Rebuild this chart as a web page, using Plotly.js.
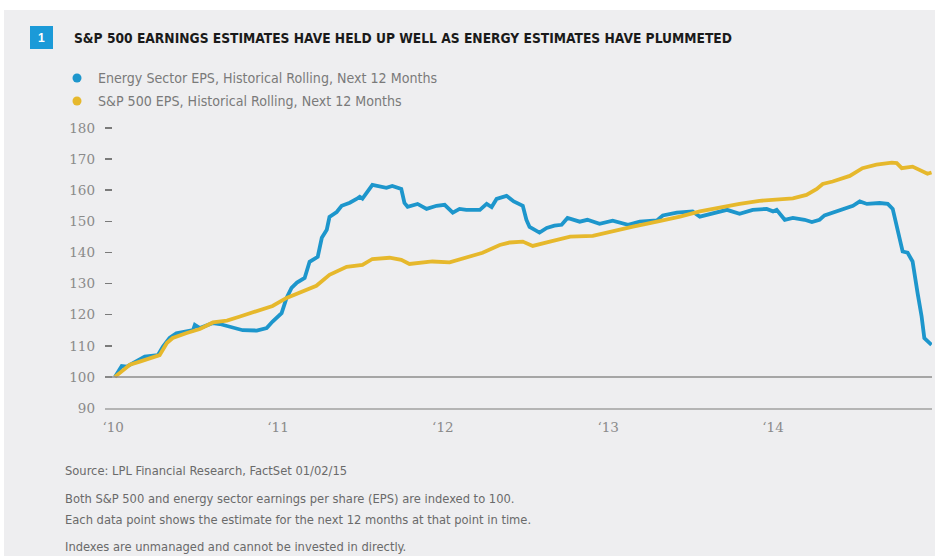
<!DOCTYPE html>
<html>
<head>
<meta charset="utf-8">
<script src="https://cdn.plot.ly/plotly-3.0.1.min.js"></script>
<style>
  html, body { margin: 0; padding: 0; background: #ffffff; }
  #chart { width: 935px; height: 556px; }
</style>
</head>
<body>
<div id="chart"></div>
<script>
// ---- Data ----
const energyDates = [
  "2010-01-05","2010-01-20","2010-01-31","2010-02-14","2010-03-12","2010-04-10","2010-04-21","2010-05-06",
  "2010-05-21","2010-06-27","2010-07-01","2010-07-12","2010-08-10","2010-08-25","2010-09-23","2010-10-15",
  "2010-11-15","2010-12-07","2010-12-20","2011-01-09","2011-01-20","2011-01-31","2011-02-12","2011-03-01",
  "2011-03-12","2011-03-30","2011-04-08","2011-04-19","2011-04-25","2011-05-11","2011-05-22","2011-06-09",
  "2011-06-24","2011-07-01","2011-07-07","2011-07-16","2011-07-29","2011-08-29","2011-09-11","2011-10-01",
  "2011-10-08","2011-10-15","2011-11-06","2011-11-26","2011-12-18","2012-01-05","2012-01-23","2012-02-07",
  "2012-02-22","2012-03-23","2012-04-07","2012-04-18","2012-04-29","2012-05-21","2012-06-06","2012-06-26",
  "2012-07-04","2012-07-11","2012-08-02","2012-08-18","2012-09-04","2012-09-20","2012-10-03","2012-10-30",
  "2012-11-16","2012-12-13","2013-01-11","2013-02-14","2013-03-12","2013-04-19","2013-05-02","2013-06-02",
  "2013-07-07","2013-07-23","2013-08-21","2013-09-21","2013-10-19","2013-11-17","2013-12-18","2014-01-01",
  "2014-01-09","2014-01-27","2014-02-14","2014-03-12","2014-03-28","2014-04-14","2014-04-25","2014-05-22",
  "2014-06-16","2014-06-27","2014-07-12","2014-07-28","2014-08-25","2014-09-12","2014-09-23","2014-10-04",
  "2014-10-15","2014-10-26","2014-11-06","2014-11-17","2014-11-26","2014-12-02","2014-12-18"
];
const energyValues = [
  100, 103.5, 103.3, 104.5, 106.5, 107, 109.7, 112.5,
  114, 115, 116.7, 115.7, 117.3, 117, 115.7, 115,
  114.9, 115.7, 117.8, 120.5, 125.4, 128.6, 130.3, 131.8,
  137, 138.6, 144.7, 147.3, 151.4, 153, 155, 156,
  157.2, 157.9, 157.3, 159, 161.7, 160.8, 161.4, 160.4,
  155.9, 154.7, 155.6, 154, 155, 155.3, 152.8, 154,
  153.7, 153.7, 155.6, 154.6, 157.2, 158.2, 156.4, 155,
  150.5, 148.2, 146.4, 147.9, 148.6, 148.9, 151.1, 149.9,
  150.5, 149.2, 150.2, 148.9, 149.9, 150.3, 151.9, 152.8,
  153.2, 151.5, 152.7, 153.7, 152.4, 153.7, 154, 153.2,
  153.7, 150.5, 151.1, 150.5, 149.8, 150.5, 151.9, 153.2,
  154.3, 155, 156.4, 155.6, 155.9, 155.6, 154, 147.3,
  140.3, 139.9, 137.1, 127, 119.4, 112.5, 110.3
];

const spxDates = [
  "2010-01-05","2010-02-07","2010-03-01","2010-03-30","2010-04-14","2010-04-30","2010-05-13","2010-06-13",
  "2010-07-12","2010-08-10","2010-09-10","2010-10-09","2010-11-15","2010-12-20","2011-01-20","2011-02-18",
  "2011-03-27","2011-04-25","2011-06-02","2011-07-07","2011-07-29","2011-09-05","2011-10-01","2011-10-19",
  "2011-11-17","2011-12-09","2012-01-16","2012-02-22","2012-03-29","2012-05-06","2012-05-28","2012-06-26",
  "2012-07-18","2012-08-25","2012-10-09","2012-11-28","2013-01-05","2013-02-25","2013-04-19","2013-06-09",
  "2013-07-23","2013-09-05","2013-10-19","2013-12-02","2014-01-16","2014-02-14","2014-03-16","2014-04-08",
  "2014-04-21","2014-05-13","2014-06-20","2014-07-18","2014-08-18","2014-09-21","2014-10-02","2014-10-13",
  "2014-11-06","2014-12-09","2014-12-18"
];
const spxValues = [
  100, 103.9, 104.9, 106.1, 107, 110.9, 112.5, 114.1,
  115.4, 117.5, 118.1, 119.4, 121, 122.8, 125.4, 127,
  129.3, 132.8, 135.4, 136, 137.9, 138.3, 137.6, 136.3,
  136.8, 137.1, 136.8, 138.3, 139.9, 142.4, 143.2, 143.5,
  142.1, 143.5, 145.1, 145.3, 146.7, 148.3, 149.9, 151.5,
  153.2, 154.5, 155.6, 156.6, 156.9, 157.4, 158.5, 160.4,
  162, 162.8, 164.6, 167.1, 168.2, 168.9, 168.7, 167.1,
  167.6, 165.3, 165.7
];

const yTickVals = [90, 100, 110, 120, 130, 140, 150, 160, 170, 180];
const xTickVals = ["2010-01-01", "2011-01-01", "2012-01-01", "2013-01-01", "2014-01-01"];
const xTickLabels = ["\u201810", "\u201811", "\u201812", "\u201813", "\u201814"];

const seriesNames = [
  "Energy Sector EPS, Historical Rolling, Next 12 Months",
  "S&P 500 EPS, Historical Rolling, Next 12 Months"
];
const titleText = "S&P 500 EARNINGS ESTIMATES HAVE HELD UP WELL AS ENERGY ESTIMATES HAVE PLUMMETED";
const footnotes = [
  "Source: LPL Financial Research, FactSet 01/02/15",
  "Both S&P 500 and energy sector earnings per share (EPS) are indexed to 100.",
  "Each data point shows the estimate for the next 12 months at that point in time.",
  "Indexes are unmanaged and cannot be invested in directly."
];

// ---- Styling ----
const BLUE = "#1d96cc";
const GOLD = "#e6b82c";
const BG = "#eeeef0";
const W = 935, H = 556;
const ML = 105, MR = 3, MT = 126, MB = 148;
const PW = W - ML - MR, PH = H - MT - MB;
const px = x => (x - ML) / PW;
const py = y => (H - MB - y) / PH;

const NARROW = "Liberation Sans Narrow, DejaVu Sans Condensed, Roboto, sans-serif";
const SERIF = "DejaVu Serif, serif";

const traces = [
  { x: energyDates, y: energyValues, type: "scatter", mode: "lines", name: seriesNames[0],
    line: { color: BLUE, width: 3.8 }, hoverinfo: "skip" },
  { x: spxDates, y: spxValues, type: "scatter", mode: "lines", name: seriesNames[1],
    line: { color: GOLD, width: 3.8 }, hoverinfo: "skip" }
];

const shapes = [
  { type: "rect", xref: "paper", yref: "paper", x0: px(4), x1: px(W + 5), y0: py(H + 5), y1: py(10),
    fillcolor: BG, line: { width: 0 }, layer: "below" },
  { type: "rect", xref: "paper", yref: "paper", x0: px(30), x1: px(53), y0: py(49), y1: py(26),
    fillcolor: "#1b9ad8", line: { width: 0 } },
  { type: "line", xref: "paper", yref: "y", x0: 0, x1: 1, y0: 100, y1: 100,
    line: { color: "#8c8c8c", width: 1.5 } },
  { type: "circle", xref: "paper", yref: "paper", x0: px(72.5), x1: px(81.5), y0: py(82.5), y1: py(73.5),
    fillcolor: BLUE, line: { width: 0 } },
  { type: "circle", xref: "paper", yref: "paper", x0: px(72.5), x1: px(81.5), y0: py(105.5), y1: py(96.5),
    fillcolor: GOLD, line: { width: 0 } }
];

const annotations = [
  { xref: "paper", yref: "paper", x: px(41.5), y: py(37.5), text: "1", showarrow: false,
    xanchor: "center", yanchor: "middle", font: { family: "Liberation Sans, Arial, sans-serif", size: 12, color: "#ffffff", weight: 700 } },
  { xref: "paper", yref: "paper", x: px(72), y: py(37.5), text: titleText, showarrow: false,
    xanchor: "left", yanchor: "middle", font: { family: NARROW, size: 13.7, color: "#1a1a1a", weight: 700 } },
  { xref: "paper", yref: "paper", x: px(96), y: py(78), text: seriesNames[0], showarrow: false,
    xanchor: "left", yanchor: "middle", font: { family: NARROW, size: 14.1, color: "#7a7a7a" } },
  { xref: "paper", yref: "paper", x: px(96), y: py(101), text: seriesNames[1], showarrow: false,
    xanchor: "left", yanchor: "middle", font: { family: NARROW, size: 14.1, color: "#7a7a7a" } },
  { xref: "paper", yref: "paper", x: px(63), y: py(470), text: footnotes[0], showarrow: false,
    xanchor: "left", yanchor: "middle", font: { family: NARROW, size: 12.8, color: "#6a6a6a" } },
  { xref: "paper", yref: "paper", x: px(63), y: py(498), text: footnotes[1], showarrow: false,
    xanchor: "left", yanchor: "middle", font: { family: NARROW, size: 12.8, color: "#6a6a6a" } },
  { xref: "paper", yref: "paper", x: px(63), y: py(519), text: footnotes[2], showarrow: false,
    xanchor: "left", yanchor: "middle", font: { family: NARROW, size: 12.8, color: "#6a6a6a" } },
  { xref: "paper", yref: "paper", x: px(63), y: py(546), text: footnotes[3], showarrow: false,
    xanchor: "left", yanchor: "middle", font: { family: NARROW, size: 12.8, color: "#6a6a6a" } }
];

const layout = {
  width: W, height: H,
  margin: { l: ML, r: MR, t: MT, b: MB, pad: 0 },
  paper_bgcolor: "#ffffff",
  plot_bgcolor: "rgba(0,0,0,0)",
  showlegend: false,
  xaxis: {
    type: "date",
    range: ["2009-12-14", "2014-12-19"],
    tickmode: "array", tickvals: xTickVals, ticktext: xTickLabels,
    showgrid: false, zeroline: false,
    showline: true, linecolor: "#b4b4b4", linewidth: 2,
    ticks: "", ticklabelstandoff: 6,
    tickfont: { family: SERIF, size: 13.5, color: "#8a8a8a" }
  },
  yaxis: {
    range: [90, 180.65],
    tickmode: "array", tickvals: yTickVals,
    showgrid: false, zeroline: false, showline: false,
    ticks: "inside", ticklen: 7, tickwidth: 1.5, tickcolor: "#7a7a7a",
    ticklabelstandoff: 9,
    tickfont: { family: SERIF, size: 13.5, color: "#8a8a8a" }
  },
  shapes: shapes,
  annotations: annotations
};

Plotly.newPlot("chart", traces, layout, { displayModeBar: false, staticPlot: true });
</script>
</body>
</html>
